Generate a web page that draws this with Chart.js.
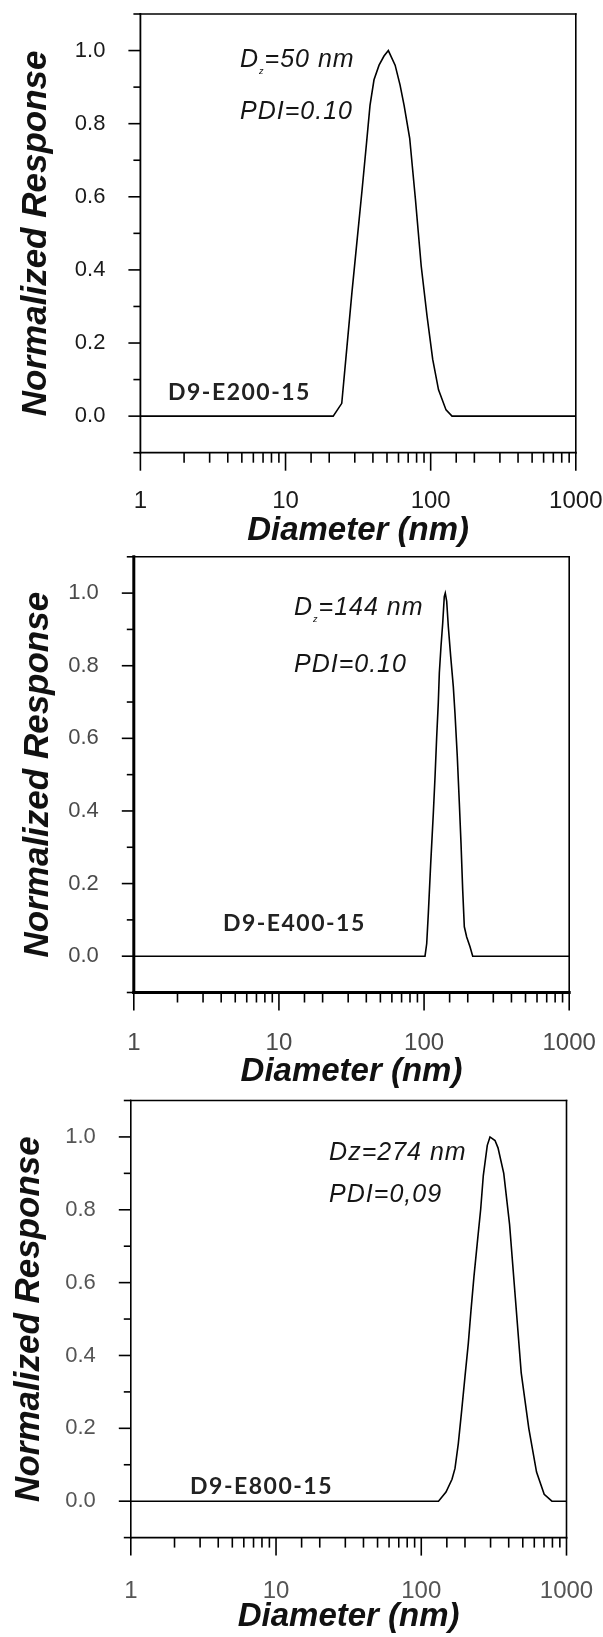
<!DOCTYPE html>
<html>
<head>
<meta charset="utf-8">
<script src="https://cdn.jsdelivr.net/npm/chart.js@4.4.1/dist/chart.umd.min.js"></script>
<style>
  html, body { margin: 0; padding: 0; background: #fff; }
  body { width: 603px; height: 1637px; position: relative; overflow: hidden; }
  .panel { position: absolute; left: 0; width: 603px; }
</style>
</head>
<body>
<div class="panel" style="top:0;height:555px"><canvas id="c1"></canvas></div>
<div class="panel" style="top:540px;height:555px"><canvas id="c2"></canvas></div>
<div class="panel" style="top:1085px;height:552px"><canvas id="c3"></canvas></div>
<script>
// axis tick labels
const xTickLabels = [1, 10, 100, 1000];
const yTickLabels = [0, 0.2, 0.4, 0.6, 0.8, 1.0];

// D9-E200-15 (diameter in nm, normalized response)
const diamE200 = [1, 21.3, 24.4, 26.5, 28.7, 31.1, 33.7, 36.2, 38.2, 40.7, 44.1, 47.7, 51.1,
  56.9, 61.5, 65.6, 71.7, 78.5, 86.1, 94.4, 103.3, 113.3, 127.6, 140.3, 1000];
const respE200 = [0, 0, 0.035, 0.19, 0.34, 0.48, 0.62, 0.75, 0.85, 0.92, 0.96, 0.985, 1.0,
  0.96, 0.906, 0.85, 0.76, 0.594, 0.41, 0.274, 0.155, 0.072, 0.017, 0, 0];

// D9-E400-15
const diamE400 = [1, 101.5, 104.3, 107, 111.1, 115.8, 119, 122.2, 125.3, 127.4, 130.8, 134.4, 137.8, 140,
  143.2, 146.9, 152.6, 159, 163.3, 169.4, 175, 179.7, 184.6, 189.4, 196.6, 207.3, 216.4, 1000];
const respE400 = [0, 0, 0.035, 0.118, 0.255, 0.393, 0.494, 0.605, 0.697, 0.78, 0.853, 0.917, 0.99, 1.0,
  0.977, 0.908, 0.825, 0.743, 0.669, 0.55, 0.421, 0.311, 0.182, 0.081, 0.053, 0.026, 0, 0];

// D9-E800-15
const diamE800 = [1, 131.4, 148, 162.8, 170.7, 179.9, 189.9, 200, 210.9, 220.2, 230.7, 243.2, 256.6, 267.4,
  284.8, 297.3, 322, 337.6, 369.8, 405.5, 444.6, 487.5, 550, 622, 702, 793.5, 1000];
const respE800 = [0, 0, 0.025, 0.06, 0.09, 0.158, 0.25, 0.342, 0.434, 0.526, 0.618, 0.71, 0.802, 0.894,
  0.977, 1.0, 0.99, 0.97, 0.9, 0.76, 0.557, 0.353, 0.2, 0.08, 0.019, 0, 0];

const isLabelled = v => yTickLabels.some(t => Math.abs(t - v) < 1e-6);

const noteFont = 'italic 25px "Liberation Sans"';
const subFont = 'italic 9px "Liberation Sans"';
const sampleFont = 'bold 23px Lato';

// frame, tick marks and the text notes inside each panel
const framePlugin = {
  id: 'frame',
  afterDraw(chart, args, opts) {
    const { ctx, chartArea: a, scales } = chart;
    const lw = opts.lineWidths;
    const line = (x1, y1, x2, y2, w) => {
      ctx.lineWidth = w;
      ctx.beginPath();
      ctx.moveTo(x1, y1);
      ctx.lineTo(x2, y2);
      ctx.stroke();
    };
    ctx.save();
    ctx.strokeStyle = '#000';
    ctx.lineCap = 'square';
    line(a.left, a.top, a.right, a.top, lw[0]);
    line(a.right, a.top, a.right, a.bottom, lw[1]);
    line(a.left, a.bottom, a.right, a.bottom, lw[2]);
    line(a.left, a.top, a.left, a.bottom, lw[3]);

    ctx.lineCap = 'butt';
    scales.x.ticks.forEach(t => {
      const px = scales.x.getPixelForValue(t.value);
      const len = xTickLabels.includes(t.value) ? 18 : 10;
      line(px, a.bottom, px, a.bottom + len, 1.6);
    });
    scales.y.ticks.forEach(t => {
      const py = scales.y.getPixelForValue(t.value);
      const len = isLabelled(t.value) ? 12 : 7;
      line(a.left - len, py, a.left, py, 1.6);
    });

    ctx.textBaseline = 'middle';
    ctx.textAlign = 'left';
    opts.notes.forEach(n => {
      let px = scales.x.getPixelForValue(n.x);
      const py = scales.y.getPixelForValue(n.y);
      ctx.fillStyle = n.color || '#151515';
      n.parts.forEach(([str, sub]) => {
        ctx.font = sub ? subFont : n.font;
        ctx.letterSpacing = sub ? '0px' : (n.spacing || '0px');
        ctx.fillText(str, px, sub ? py + 12 : py);
        px += ctx.measureText(str).width + (sub ? 1 : 0);
      });
    });
    ctx.letterSpacing = '0px';
    ctx.restore();
  }
};

const panels = [
  {
    id: 'c1', diam: diamE200, resp: respE200, height: 555,
    left: 140.4, right: 575.8, top: 14, bottom: 452.7,
    xPad: 26.6, xTitlePad: 4.2, yTitlePad: 15, tickColor: '#1a1a1a', lineWidths: [1.6, 1.6, 1.8, 1.8],
    notes: [
      { x: 4.86, y: 0.975, font: noteFont, spacing: '1px', parts: [['D'], ['z', true], ['=50 nm']] },
      { x: 4.86, y: 0.833, font: noteFont, spacing: '1px', parts: [['PDI=0.10']] },
      { x: 1.55, y: 0.064, font: sampleFont, spacing: '1.5px', color: '#222', parts: [['D9-E200-15']] }
    ]
  },
  {
    id: 'c2', diam: diamE400, resp: respE400, height: 555,
    left: 133.8, right: 569.2, top: 16.8, bottom: 452.5,
    xPad: 28.6, xTitlePad: 3.2, yTitlePad: 17, tickColor: '#4a4a4a', lineWidths: [1.6, 1.6, 3, 3],
    notes: [
      { x: 12.7, y: 0.96, font: noteFont, spacing: '1px', parts: [['D'], ['z', true], ['=144 nm']] },
      { x: 12.7, y: 0.803, font: noteFont, spacing: '1px', parts: [['PDI=0.10']] },
      { x: 4.11, y: 0.091, font: sampleFont, spacing: '1.5px', color: '#222', parts: [['D9-E400-15']] }
    ]
  },
  {
    id: 'c3', diam: diamE800, resp: respE800, height: 552,
    left: 130.8, right: 566.5, top: 15.5, bottom: 452.6,
    xPad: 31.6, xTitlePad: 0, yTitlePad: 8, tickColor: '#555', lineWidths: [1.6, 1.6, 1.8, 1.6],
    notes: [
      { x: 23.2, y: 0.957, font: noteFont, spacing: '1px', parts: [['Dz=274 nm']] },
      { x: 23.2, y: 0.841, font: noteFont, spacing: '1px', parts: [['PDI=0,09']] },
      { x: 2.56, y: 0.039, font: sampleFont, spacing: '1.5px', color: '#222', parts: [['D9-E800-15']] }
    ]
  }
];

panels.forEach(p => {
  new Chart(document.getElementById(p.id), {
    type: 'line',
    data: {
      datasets: [{
        data: p.diam.map((d, i) => ({ x: d, y: p.resp[i] })),
        borderColor: '#000',
        borderWidth: 1.6,
        pointRadius: 0,
        tension: 0,
        fill: false
      }]
    },
    options: {
      responsive: true,
      maintainAspectRatio: false,
      animation: false,
      layout: { padding: { top: p.top, right: 603 - p.right, bottom: 0, left: 0 } },
      plugins: {
        legend: { display: false },
        tooltip: { enabled: false },
        frame: { lineWidths: p.lineWidths, notes: p.notes }
      },
      scales: {
        x: {
          type: 'logarithmic',
          min: 1,
          max: 1000,
          grid: { display: false },
          border: { display: false },
          ticks: {
            autoSkip: false,
            maxRotation: 0,
            padding: p.xPad,
            color: p.tickColor,
            font: { family: 'Liberation Sans', size: 24 },
            callback: v => xTickLabels.includes(v) ? String(v) : ''
          },
          title: {
            display: true,
            text: 'Diameter (nm)',
            color: '#111',
            font: { family: 'Liberation Sans', size: 33, weight: 'bold', style: 'italic' },
            padding: { top: 0, bottom: p.xTitlePad }
          },
          afterFit: s => { s.height = p.height - p.bottom; s.paddingLeft = 0; s.paddingRight = 0; }
        },
        y: {
          min: -0.1,
          max: 1.1,
          grid: { display: false },
          border: { display: false },
          ticks: {
            stepSize: 0.1,
            autoSkip: false,
            padding: 27,
            color: p.tickColor,
            font: { family: 'Liberation Sans', size: 22 },
            callback: v => {
              const t = yTickLabels.find(k => Math.abs(k - v) < 1e-6);
              return t === undefined ? '' : t.toFixed(1);
            }
          },
          title: {
            display: true,
            text: 'Normalized Response',
            color: '#111',
            font: { family: 'Liberation Sans', size: 35, weight: 'bold', style: 'italic' },
            padding: { top: p.yTitlePad, bottom: 0 }
          },
          afterFit: s => { s.width = p.left; s.paddingTop = 0; s.paddingBottom = 0; }
        }
      }
    },
    plugins: [framePlugin]
  });
});
</script>
</body>
</html>
